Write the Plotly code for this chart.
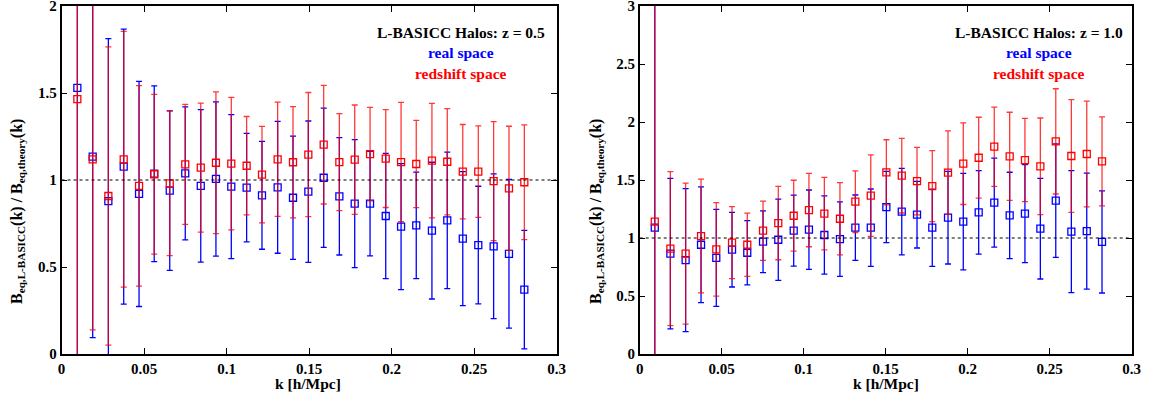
import plotly.graph_objects as go

# ---------------- data: z = 0.5 panel ----------------
k_z05 = [0.0096, 0.0189, 0.0284, 0.0377, 0.0470, 0.0562, 0.0656, 0.0750, 0.0844, 0.0936,
         0.1029, 0.1122, 0.1215, 0.1310, 0.1403, 0.1496, 0.1589, 0.1684, 0.1777, 0.1870,
         0.1965, 0.2058, 0.2150, 0.2245, 0.2338, 0.2432, 0.2526, 0.2619, 0.2712, 0.2805]
real_z05 = [1.53, 1.134, 0.879, 1.077, 0.920, 1.036, 0.939, 1.038, 0.966, 1.006,
            0.962, 0.956, 0.912, 0.958, 0.898, 0.933, 1.013, 0.906, 0.864, 0.864,
            0.793, 0.732, 0.739, 0.709, 0.768, 0.663, 0.626, 0.619, 0.576, 0.370]
real_err_z05 = [2.0, 1.04, 0.933, 0.79, 0.647, 0.505, 0.458, 0.382, 0.438, 0.443,
                0.414, 0.312, 0.31, 0.379, 0.354, 0.406, 0.40, 0.337, 0.368, 0.30,
                0.36, 0.362, 0.306, 0.393, 0.392, 0.385, 0.338, 0.416, 0.427, 0.34]
red_z05 = [1.465, 1.119, 0.908, 1.119, 0.966, 1.033, 0.981, 1.090, 1.071, 1.099,
           1.094, 1.082, 1.031, 1.119, 1.102, 1.146, 1.203, 1.103, 1.117, 1.149,
           1.123, 1.103, 1.092, 1.111, 1.105, 1.048, 1.048, 0.994, 0.952, 0.987]
red_err_z05 = [2.0, 0.98, 0.857, 0.735, 0.576, 0.459, 0.416, 0.345, 0.371, 0.407,
               0.381, 0.283, 0.277, 0.3285, 0.32, 0.357, 0.341, 0.2785, 0.314, 0.2685,
               0.281, 0.343, 0.251, 0.329, 0.3055, 0.271, 0.2625, 0.342, 0.357, 0.3295]

# ---------------- data: z = 1.0 panel ----------------
k_z10 = [0.0092, 0.0187, 0.0280, 0.0374, 0.0467, 0.0563, 0.0656, 0.0752, 0.0845, 0.0939,
         0.1032, 0.1126, 0.1221, 0.1315, 0.1409, 0.1504, 0.1598, 0.1691, 0.1784, 0.1880,
         0.1973, 0.2067, 0.2162, 0.2256, 0.2349, 0.2443, 0.2537, 0.2632, 0.2726, 0.2819]
real_z10 = [1.089, 0.865, 0.810, 0.942, 0.828, 0.899, 0.873, 0.968, 0.985, 1.063,
            1.072, 1.026, 0.991, 1.089, 1.089, 1.267, 1.227, 1.201, 1.089, 1.175,
            1.141, 1.221, 1.305, 1.195, 1.210, 1.080, 1.322, 1.055, 1.060, 0.966]
real_err_z10 = [3.0, 0.649, 0.6165, 0.499, 0.418, 0.3215, 0.2775, 0.266, 0.35, 0.306,
                0.342, 0.3375, 0.321, 0.2815, 0.3335, 0.307, 0.3725, 0.287, 0.333, 0.399,
                0.4165, 0.36, 0.3835, 0.372, 0.4225, 0.4335, 0.489, 0.5255, 0.50, 0.44]
red_z10 = [1.141, 0.908, 0.865, 1.017, 0.902, 0.960, 0.942, 1.063, 1.129, 1.192,
           1.241, 1.210, 1.166, 1.313, 1.365, 1.566, 1.537, 1.491, 1.448, 1.563,
           1.641, 1.692, 1.787, 1.704, 1.672, 1.618, 1.833, 1.707, 1.724, 1.661]
red_err_z10 = [3.0, 0.664, 0.6075, 0.49, 0.4025, 0.31, 0.273, 0.2555, 0.3165, 0.306,
               0.3165, 0.312, 0.312, 0.2655, 0.351, 0.281, 0.3215, 0.291, 0.306, 0.36,
               0.352, 0.349, 0.342, 0.38, 0.359, 0.4165, 0.4535, 0.4855, 0.4555, 0.3835]

x_ticks = [0, 0.05, 0.1, 0.15, 0.2, 0.25, 0.3]
x_ticktext = ["0", "0.05", "0.1", "0.15", "0.2", "0.25", "0.3"]
y_ticks_z05 = [0, 0.5, 1, 1.5, 2]
y_ticktext_z05 = ["0", "0.5", "1", "1.5", "2"]
y_ticks_z10 = [0, 0.5, 1, 1.5, 2, 2.5, 3]
y_ticktext_z10 = ["0", "0.5", "1", "1.5", "2", "2.5", "3"]

BLUE = "#0000ff"
RED = "#ff0000"
RED_BAR = "rgba(255,0,0,0.78)"
FONT = "Liberation Serif"

fig = go.Figure()


def add_series(k, y, err, color, barcolor, xa, ya):
    fig.add_trace(go.Scatter(
        x=k, y=y, mode="markers", xaxis=xa, yaxis=ya, showlegend=False,
        marker=dict(symbol="square-open", size=7, color=color, line=dict(width=1.3, color=color)),
        error_y=dict(type="data", array=err, visible=True, color=barcolor, thickness=1.3, width=3),
    ))


add_series(k_z05, real_z05, real_err_z05, BLUE, BLUE, "x", "y")
add_series(k_z05, red_z05, red_err_z05, RED, RED_BAR, "x", "y")
add_series(k_z10, real_z10, real_err_z10, BLUE, BLUE, "x2", "y2")
add_series(k_z10, red_z10, red_err_z10, RED, RED_BAR, "x2", "y2")

W, H = 1156, 397
tickfont = dict(family=FONT, size=15, color="black", weight="bold")
axis_common = dict(showline=True, linecolor="black", linewidth=1.5, mirror="ticks",
                   ticks="inside", ticklen=6, tickwidth=1.2, tickcolor="black",
                   showgrid=False, zeroline=False, tickfont=tickfont,
                   ticklabeloverflow="allow", automargin=False)

y_dom = [1 - 354 / H, 1 - 6 / H]
fig.update_layout(
    width=W, height=H,
    autosize=False,
    margin=dict(l=0, r=0, t=0, b=0, pad=0, autoexpand=False),
    paper_bgcolor="white", plot_bgcolor="white",
    font=dict(family=FONT, size=14, color="black", weight="bold"),
    xaxis=dict(domain=[61.5 / W, 556.5 / W], range=[0, 0.3], tickvals=x_ticks, ticktext=x_ticktext,
               anchor="y", **axis_common),
    yaxis=dict(domain=y_dom, range=[0, 2], tickvals=y_ticks_z05, ticktext=y_ticktext_z05,
               anchor="x", **axis_common),
    xaxis2=dict(domain=[639.7 / W, 1131.7 / W], range=[0, 0.3], tickvals=x_ticks, ticktext=x_ticktext,
                anchor="y2", **axis_common),
    yaxis2=dict(domain=y_dom, range=[0, 3], tickvals=y_ticks_z10, ticktext=y_ticktext_z10,
                anchor="x2", **axis_common),
)

for xr, yr in (("x", "y"), ("x2", "y2")):
    fig.add_shape(type="line", xref=xr, yref=yr, x0=0, x1=0.3, y0=1, y1=1,
                  line=dict(color="black", width=1.2, dash="dot"), layer="above")

ann_font = dict(family=FONT, size=15.5, weight="bold")
title_font = dict(family=FONT, size=16, weight="bold")
ytitle = "B<sub>eq,L-BASICC</sub>(k) / B<sub>eq,theory</sub>(k)"
anns = [
    dict(text="L-BASICC Halos: z = 0.5", x=547 / W, y=1 - 33 / H, xanchor="right", font=dict(color="black", **ann_font)),
    dict(text="real space", x=461 / W, y=1 - 53 / H, xanchor="center", font=dict(color=BLUE, **ann_font)),
    dict(text="redshift space", x=461 / W, y=1 - 73 / H, xanchor="center", font=dict(color=RED, **ann_font)),
    dict(text="L-BASICC Halos: z = 1.0", x=1125 / W, y=1 - 33 / H, xanchor="right", font=dict(color="black", **ann_font)),
    dict(text="real space", x=1039 / W, y=1 - 53 / H, xanchor="center", font=dict(color=BLUE, **ann_font)),
    dict(text="redshift space", x=1039 / W, y=1 - 73 / H, xanchor="center", font=dict(color=RED, **ann_font)),
    dict(text="k [h/Mpc]", x=308 / W, y=1 - 383 / H, xanchor="center", font=dict(color="black", **ann_font)),
    dict(text="k [h/Mpc]", x=886 / W, y=1 - 383 / H, xanchor="center", font=dict(color="black", **ann_font)),
    dict(text=ytitle, x=18 / W, y=1 - 212 / H, xanchor="center", textangle=-90, font=dict(color="black", **title_font)),
    dict(text=ytitle, x=597 / W, y=1 - 212 / H, xanchor="center", textangle=-90, font=dict(color="black", **title_font)),
]
for a in anns:
    fig.add_annotation(xref="paper", yref="paper", yanchor="middle", showarrow=False, **a)

fig.write_html("out.html",
               config={"displayModeBar": False},
               post_script="document.body.style.margin='0';document.body.style.overflow='hidden';")
